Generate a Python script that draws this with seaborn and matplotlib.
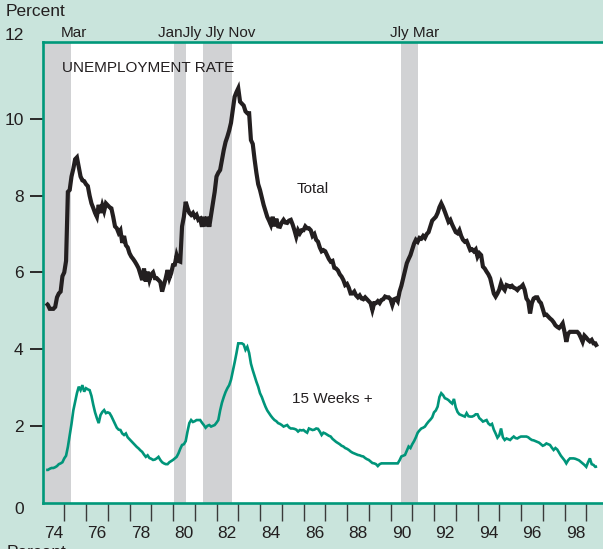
import matplotlib
matplotlib.use("Agg")
import matplotlib.pyplot as plt
import pandas as pd
import seaborn as sns
from matplotlib.ticker import FixedLocator, FixedFormatter, NullFormatter

# ---------------------------------------------------------------------------
# Data: monthly rates, March 1974 through July 1999 (percent of labor force)
# ---------------------------------------------------------------------------
first_month = "1974-03"

total_rate = [
    5.2, 5.15, 5.05, 5.05, 5.05, 5.1, 5.35, 5.45, 5.5, 5.9,              # 1974 Mar-Dec
    6.0, 6.3, 8.1, 8.15, 8.5, 8.7, 8.95, 9.0, 8.75, 8.5, 8.4, 8.38,       # 1975
    8.3, 8.25, 8.0, 7.8, 7.68, 7.55, 7.45, 7.76, 7.55, 7.75, 7.6, 7.8,    # 1976
    7.75, 7.7, 7.67, 7.45, 7.2, 7.15, 7.03, 7.1, 6.77, 6.95, 6.71, 6.65,  # 1977
    6.5, 6.41, 6.35, 6.28, 6.2, 6.11, 5.95, 5.8, 6.1, 5.76, 6.02, 5.8,    # 1978
    5.95, 6.0, 5.85, 5.85, 5.8, 5.75, 5.5, 5.67, 5.85, 6.06, 5.85, 5.98,  # 1979
    6.19, 6.2, 6.45, 6.3, 6.28, 7.2, 7.45, 7.84, 7.68, 7.55, 7.5, 7.55,   # 1980
    7.45, 7.5, 7.37, 7.4, 7.19, 7.45, 7.2, 7.45, 7.19, 7.5, 7.8, 8.1,     # 1981
    8.5, 8.6, 8.67, 8.93, 9.19, 9.4, 9.54, 9.7, 9.9, 10.23, 10.58, 10.7,  # 1982
    10.8, 10.45, 10.4, 10.35, 10.2, 10.15, 10.15, 9.45, 9.35, 8.95, 8.6, 8.3,  # 1983
    8.15, 7.95, 7.76, 7.6, 7.45, 7.35, 7.24, 7.45, 7.2, 7.4, 7.2, 7.19,   # 1984
    7.3, 7.37, 7.3, 7.29, 7.35, 7.37, 7.25, 7.1, 6.93, 7.1, 7.02, 7.1,    # 1985
    7.1, 7.2, 7.15, 7.15, 7.1, 6.95, 7.0, 6.85, 6.8, 6.65, 6.55, 6.58,    # 1986
    6.55, 6.45, 6.35, 6.28, 6.3, 6.12, 6.1, 6.05, 5.95, 5.89, 5.8, 5.67,  # 1987
    5.7, 5.6, 5.45, 5.45, 5.5, 5.4, 5.35, 5.4, 5.32, 5.3, 5.35, 5.3,      # 1988
    5.25, 5.2, 5.02, 5.2, 5.2, 5.25, 5.2, 5.28, 5.3, 5.37, 5.35, 5.35,    # 1989
    5.3, 5.15, 5.3, 5.32, 5.25, 5.5, 5.65, 5.85, 6.05, 6.24, 6.35, 6.45,  # 1990
    6.6, 6.75, 6.85, 6.8, 6.9, 6.88, 6.95, 6.9, 7.0, 7.05, 7.2, 7.35,     # 1991
    7.4, 7.45, 7.55, 7.7, 7.8, 7.7, 7.58, 7.45, 7.32, 7.37, 7.25, 7.15,   # 1992
    7.05, 7.02, 7.1, 6.95, 6.85, 6.8, 6.82, 6.7, 6.58, 6.6, 6.55, 6.6,    # 1993
    6.41, 6.5, 6.45, 6.15, 6.1, 6.02, 5.95, 5.85, 5.65, 5.45, 5.37, 5.45, # 1994
    5.55, 5.72, 5.6, 5.54, 5.67, 5.65, 5.62, 5.65, 5.6, 5.58, 5.54, 5.6,  # 1995
    5.62, 5.67, 5.55, 5.32, 5.25, 4.93, 5.2, 5.32, 5.35, 5.35, 5.25, 5.2, # 1996
    5.05, 4.89, 4.9, 4.85, 4.8, 4.76, 4.7, 4.62, 4.58, 4.55, 4.6, 4.67,   # 1997
    4.45, 4.19, 4.4, 4.45, 4.45, 4.45, 4.45, 4.45, 4.4, 4.3, 4.19, 4.35,  # 1998
    4.3, 4.24, 4.2, 4.24, 4.15, 4.15, 4.06,                               # 1999 Jan-Jul
]

long_term_rate = [
    0.85, 0.85, 0.88, 0.9, 0.9, 0.92, 0.95, 1.0, 1.02, 1.05,             # 1974 Mar-Dec
    1.15, 1.22, 1.45, 1.75, 2.05, 2.4, 2.62, 2.85, 3.02, 2.93, 3.06, 2.89,  # 1975
    2.98, 2.95, 2.93, 2.78, 2.55, 2.35, 2.2, 2.07, 2.28, 2.36, 2.41, 2.33,  # 1976
    2.35, 2.33, 2.25, 2.15, 2.05, 1.95, 1.9, 1.89, 1.8, 1.76, 1.8, 1.7,   # 1977
    1.65, 1.6, 1.55, 1.5, 1.45, 1.41, 1.36, 1.32, 1.25, 1.19, 1.23, 1.16, # 1978
    1.14, 1.11, 1.12, 1.15, 1.19, 1.11, 1.05, 1.02, 1.0, 1.0, 1.05, 1.08, # 1979
    1.11, 1.15, 1.19, 1.28, 1.4, 1.5, 1.52, 1.6, 1.85, 2.07, 2.15, 2.1,   # 1980
    2.12, 2.15, 2.15, 2.15, 2.08, 2.02, 1.95, 2.0, 2.02, 1.98, 2.0, 2.02, # 1981
    2.08, 2.15, 2.4, 2.6, 2.75, 2.88, 2.98, 3.06, 3.2, 3.42, 3.65, 3.89,  # 1982
    4.15, 4.15, 4.15, 4.12, 3.98, 4.06, 3.9, 3.62, 3.45, 3.3, 3.15, 3.02, # 1983
    2.85, 2.75, 2.62, 2.5, 2.4, 2.33, 2.26, 2.2, 2.15, 2.12, 2.07, 2.05,  # 1984
    2.02, 1.98, 2.0, 2.02, 1.96, 1.93, 1.93, 1.92, 1.9, 1.85, 1.89, 1.88, # 1985
    1.89, 1.85, 1.82, 1.93, 1.91, 1.89, 1.9, 1.93, 1.92, 1.85, 1.76, 1.82,  # 1986
    1.8, 1.77, 1.74, 1.72, 1.66, 1.62, 1.58, 1.55, 1.52, 1.48, 1.46, 1.42,  # 1987
    1.4, 1.37, 1.33, 1.3, 1.28, 1.26, 1.24, 1.23, 1.21, 1.2, 1.16, 1.13,  # 1988
    1.11, 1.07, 1.03, 1.02, 1.0, 0.95, 1.0, 1.02, 1.02, 1.02, 1.02, 1.02, # 1989
    1.02, 1.02, 1.02, 1.02, 1.02, 1.1, 1.2, 1.22, 1.24, 1.35, 1.46, 1.42, # 1990
    1.52, 1.6, 1.7, 1.82, 1.88, 1.93, 1.95, 1.98, 2.05, 2.11, 2.16, 2.22, # 1991
    2.35, 2.4, 2.5, 2.75, 2.85, 2.8, 2.72, 2.7, 2.67, 2.62, 2.58, 2.7,    # 1992
    2.48, 2.36, 2.3, 2.28, 2.26, 2.24, 2.33, 2.25, 2.24, 2.24, 2.26, 2.3, # 1993
    2.3, 2.2, 2.16, 2.11, 2.13, 2.15, 2.06, 2.02, 2.05, 1.9, 1.8, 1.69,   # 1994
    1.75, 1.93, 1.7, 1.63, 1.67, 1.65, 1.63, 1.68, 1.72, 1.68, 1.67, 1.7, # 1995
    1.72, 1.72, 1.72, 1.72, 1.7, 1.66, 1.63, 1.62, 1.6, 1.58, 1.56, 1.52, # 1996
    1.48, 1.5, 1.54, 1.52, 1.5, 1.43, 1.37, 1.42, 1.38, 1.3, 1.22, 1.16,  # 1997
    1.1, 1.02, 1.1, 1.15, 1.15, 1.15, 1.14, 1.12, 1.1, 1.06, 1.02, 0.98,  # 1998
    0.93, 1.05, 1.15, 1.0, 0.98, 0.93, 0.94,                              # 1999 Jan-Jul
]

# Recession periods (decimal years) and the month labels printed above them
recession_starts = [1973.83, 1980.05, 1981.38, 1990.46]
recession_ends = [1975.31, 1980.60, 1982.71, 1991.25]
turning_point_labels = ["Mar", "JanJly Jly Nov", "Jly Mar"]
turning_point_x = [1974.85, 1979.31, 1989.98]

year_labels = ["74", "76", "78", "80", "82", "84", "86", "88", "90", "92", "94", "96", "98"]
y_tick_values = [2, 4, 6, 8, 10]

# ---------------------------------------------------------------------------
# Build the frame
# ---------------------------------------------------------------------------
months = pd.date_range(first_month, periods=len(total_rate), freq="MS")
df = pd.DataFrame({
    "year": months.year + (months.month - 1) / 12.0,
    "total": total_rate,
    "long_term": long_term_rate,
})

BG = "#c9e4dc"
FRAME = "#00987a"
GREEN = "#00957a"
BAND = "#d1d2d4"
INK = "#231f20"

plt.rcParams["font.family"] = ["Liberation Sans", "DejaVu Sans"]

W, H = 603, 549
fig = plt.figure(figsize=(W / 100, H / 100), dpi=100, facecolor=BG)

x0, x1 = 1974.0, 2000.5
px_per_year = 21.75
ax_left, ax_bottom = 42.5, 46.5
ax_w = (x1 - x0) * px_per_year
ax_h = 460.2
ax = fig.add_axes([ax_left / W, ax_bottom / H, ax_w / W, ax_h / H])
ax.set_facecolor("white")

for s, e in zip(recession_starts, recession_ends):
    ax.axvspan(s, e, color=BAND, lw=0, zorder=0)

sns.lineplot(data=df, x="year", y="long_term", ax=ax, color=GREEN,
             linewidth=1.9, errorbar=None, zorder=3)
sns.lineplot(data=df, x="year", y="total", ax=ax, color=INK,
             linewidth=3.0, errorbar=None, zorder=4)
for line in ax.get_lines():
    line.set_solid_joinstyle("miter")
    line.set_solid_capstyle("butt")

ax.set_xlim(x0, x1)
ax.set_ylim(0, 12)
ax.set_xlabel("")
ax.set_ylabel("")

# Spines
for side in ("left", "top", "bottom"):
    ax.spines[side].set_color(FRAME)
    ax.spines[side].set_linewidth(1.9)
ax.spines["right"].set_visible(False)

# X axis: tick marks at year boundaries, labels centred in even years
ax.xaxis.set_minor_locator(FixedLocator([y for y in range(1975, 2001)]))
ax.xaxis.set_minor_formatter(NullFormatter())
ax.xaxis.set_major_locator(FixedLocator([1974.5 + 2 * i for i in range(len(year_labels))]))
ax.xaxis.set_major_formatter(FixedFormatter(year_labels))
ax.tick_params(axis="x", which="minor", direction="out", length=13,
               width=1.0, color="#3a3a3a")
ax.tick_params(axis="x", which="major", length=0, pad=17,
               labelsize=12.5, labelcolor=INK)

# Y axis
ax.yaxis.set_major_locator(FixedLocator(y_tick_values))
ax.yaxis.set_major_formatter(FixedFormatter([str(v) for v in y_tick_values]))
ax.tick_params(axis="y", which="major", direction="out", length=9.5,
               width=1.4, color="#2a2a2a", pad=4, labelsize=12.5,
               labelcolor=INK)
ax.tick_params(axis="y", which="minor", length=0)

ytrans = ax.get_yaxis_transform()
lab_x = -(ax_left - 24) / ax_w
ax.text(lab_x, -0.18, "0", transform=ytrans, ha="right", va="center",
        fontsize=12.5, color=INK, clip_on=False)
ax.text(lab_x, 12.18, "12", transform=ytrans, ha="right", va="center",
        fontsize=12.5, color=INK, clip_on=False)

# Titles and annotations
fig.text(6 / W, 1 - 12 / H, "Percent", ha="left", va="center",
         fontsize=12.5, color=INK)
fig.text(7 / W, 1 - 545 / H, "Percent", ha="left", va="top",
         fontsize=12.5, color=INK)

for label, xpos in zip(turning_point_labels, turning_point_x):
    ax.text(xpos, 12.15, label, ha="left", va="baseline", fontsize=11,
            color=INK, clip_on=False)

ax.text(1974.9, 11.23, "UNEMPLOYMENT RATE", ha="left", va="baseline",
        fontsize=11, color=INK)
ax.text(1985.69, 8.08, "Total", ha="left", va="baseline",
        fontsize=11, color=INK)
ax.text(1985.47, 2.59, "15 Weeks +", ha="left", va="baseline",
        fontsize=11, color=INK)

fig.savefig("out.png", dpi=100, facecolor=BG)
